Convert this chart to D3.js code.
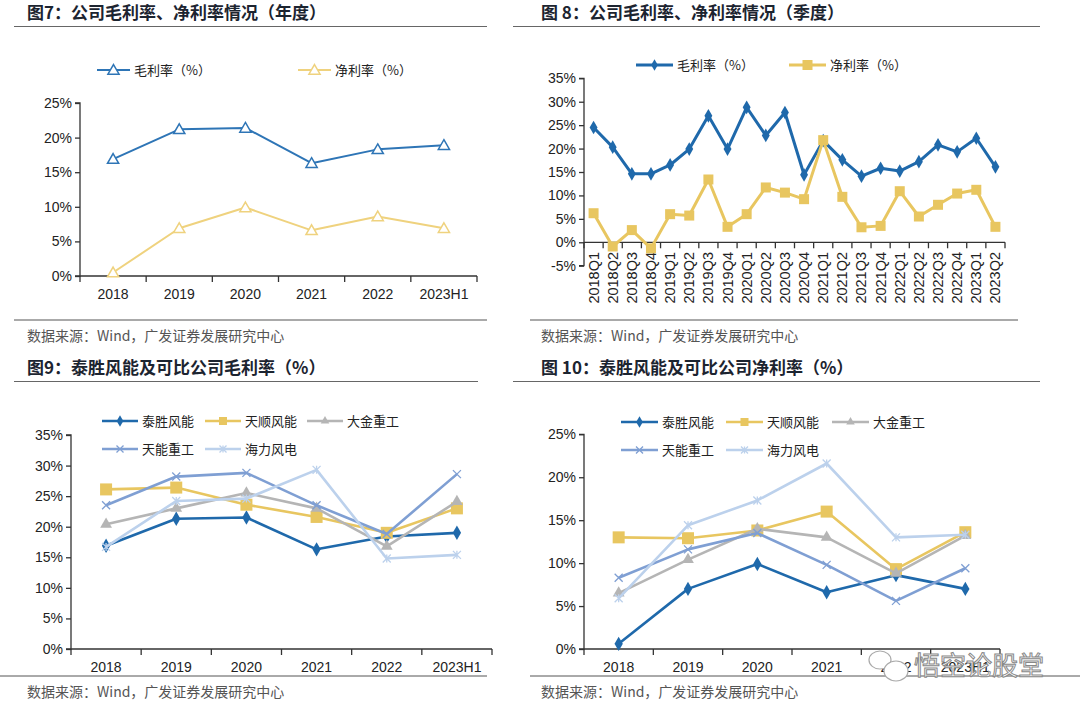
<!DOCTYPE html>
<html><head><meta charset="utf-8">
<script src="https://cdnjs.cloudflare.com/ajax/libs/d3/7.8.5/d3.min.js"></script>
<style>
body{margin:0;background:#fff;}
svg{display:block;font-family:Arial,"Liberation Sans","Noto Sans CJK SC",sans-serif;}
.cn{font-family:"Noto Sans CJK SC",sans-serif;}
</style></head><body>
<svg id="c" width="1080" height="715"></svg>
<script>
// ---------- data ----------
const yearCats = ["2018","2019","2020","2021","2022","2023H1"];
const annualGross = [16.9, 21.2, 21.4, 16.3, 18.3, 18.9];
const annualNet = [0.5, 6.9, 9.9, 6.6, 8.6, 6.9];
const annualTicks = [0,5,10,15,20,25];

const quarterCats = ["2018Q1","2018Q2","2018Q3","2018Q4","2019Q1","2019Q2","2019Q3","2019Q4",
  "2020Q1","2020Q2","2020Q3","2020Q4","2021Q1","2021Q2","2021Q3","2021Q4",
  "2022Q1","2022Q2","2022Q3","2022Q4","2023Q1","2023Q2"];
const quarterGross = [24.5,20.3,14.6,14.6,16.5,19.9,27.0,19.9,28.8,22.8,27.7,14.4,21.7,17.6,14.1,15.8,15.2,17.2,20.8,19.3,22.2,16.1];
const quarterNet = [6.2,-0.9,2.6,-1.3,6.0,5.7,13.4,3.3,6.0,11.7,10.6,9.2,21.8,9.7,3.2,3.5,10.9,5.5,8.0,10.4,11.2,3.3];
const quarterTicks = [-5,0,5,10,15,20,25,30,35];

const companies = ["泰胜风能","天顺风能","大金重工","天能重工","海力风电"];
const peerGross = [
  [16.9, 21.3, 21.5, 16.3, 18.4, 19.0],
  [26.1, 26.4, 23.6, 21.6, 19.0, 23.0],
  [20.4, 23.0, 25.5, 23.0, 16.8, 24.1],
  [23.5, 28.2, 28.8, 23.5, 18.8, 28.6],
  [16.7, 24.2, 24.6, 29.3, 14.8, 15.4]
];
const grossTicks = [0,5,10,15,20,25,30,35];
const peerNet = [
  [0.6, 7.0, 9.9, 6.6, 8.6, 7.0],
  [13.0, 12.9, 13.8, 16.0, 9.3, 13.6],
  [6.5, 10.4, 14.0, 13.0, 8.8, 13.2],
  [8.3, 11.6, 13.5, 9.8, 5.6, 9.4],
  [5.9, 14.4, 17.3, 21.6, 13.0, 13.3]
];
const netTicks = [0,5,10,15,20,25];

// ---------- styles ----------
const peerColors = ["#1f69ab","#e8c660","#b5b5b5","#7f9fd3","#bcd1ec"];
const peerShapes = ["diamond","square","triangle","x","star"];
const svg = d3.select("#c");

function marker(g, shape, x, y, color, s){
  if(shape==="diamond"){
    g.append("path").attr("d",d3.symbol(d3.symbolDiamond, s*s*0.6)()).attr("transform",`translate(${x},${y})`).attr("fill",color);
  } else if(shape==="square"){
    g.append("rect").attr("x",x-s/2).attr("y",y-s/2).attr("width",s).attr("height",s).attr("fill",color);
  } else if(shape==="triangle"){
    g.append("path").attr("d",d3.symbol(d3.symbolTriangle, s*s*0.5)()).attr("transform",`translate(${x},${y})`).attr("fill",color);
  } else if(shape==="otri"){
    g.append("path").attr("d",d3.symbol(d3.symbolTriangle, s*s*0.45)()).attr("transform",`translate(${x},${y+1})`).attr("fill","#fff").attr("stroke",color).attr("stroke-width",1.5);
  } else if(shape==="x"){
    const h=s/2;
    g.append("path").attr("d",`M${x-h},${y-h}L${x+h},${y+h}M${x-h},${y+h}L${x+h},${y-h}`).attr("stroke",color).attr("stroke-width",1.3);
  } else if(shape==="star"){
    const h=s/2;
    g.append("path").attr("d",`M${x-h},${y-h}L${x+h},${y+h}M${x-h},${y+h}L${x+h},${y-h}M${x},${y-h}L${x},${y+h}`).attr("stroke",color).attr("stroke-width",1.3);
  }
}

function header(x, lineX0, lineX1, y, text){
  svg.append("text").attr("class","cn").attr("x",x).attr("y",y).attr("font-size",17).attr("font-weight",700).attr("fill","#1c2430").text(text);
  svg.append("line").attr("x1",lineX0).attr("x2",lineX1).attr("y1",y+7.5).attr("y2",y+7.5).attr("stroke","#666").attr("stroke-width",1.2);
}
function footer(x, lineX0, lineX1, y){
  svg.append("line").attr("x1",lineX0).attr("x2",lineX1).attr("y1",y-16).attr("y2",y-16).attr("stroke","#555").attr("stroke-width",1);
  svg.append("text").attr("class","cn").attr("x",x).attr("y",y+5).attr("font-size",14).attr("fill","#555").text("数据来源：Wind，广发证券发展研究中心");
}

function panel(o){
  const g = svg.append("g");
  const x = d3.scaleBand().domain(o.cats).range([o.x0,o.x1]);
  const y = d3.scaleLinear().domain([o.ymin,o.ymax]).range([o.yb,o.yt]);
  // y axis
  const ya = g.append("g").attr("transform",`translate(${o.x0},0)`)
    .call(d3.axisLeft(y).tickValues(o.ticks).tickSize(5).tickFormat(d=>d+"%"));
  ya.select(".domain").attr("d",`M-5,${y(o.ymax)}H0V${y(o.ymin)}H-5`).attr("stroke","#333").attr("stroke-width",1.3);
  ya.selectAll(".tick line").attr("stroke","#333").attr("stroke-width",1.3);
  ya.selectAll(".tick text").attr("font-size",o.yfs||14).attr("fill","#222").attr("x",-8).attr("font-family","Arial,'Liberation Sans',sans-serif");
  // x axis
  const y0 = y(o.xAt||0);
  const xa = g.append("g").attr("transform",`translate(0,${y0})`);
  xa.append("line").attr("x1",o.x0).attr("x2",o.x1).attr("stroke","#333").attr("stroke-width",1.3);
  const bounds = o.cats.map(c=>x(c)).concat([o.x1]);
  bounds.forEach(b=>xa.append("line").attr("x1",b).attr("x2",b).attr("y1",0).attr("y2",6).attr("stroke","#333").attr("stroke-width",1.3));
  o.cats.forEach(c=>{
    const cx = x(c)+x.bandwidth()/2;
    if(o.rotate){
      xa.append("text").attr("transform",`translate(${cx+5},${o.labelTop-y0}) rotate(-90)`).attr("text-anchor","end")
        .attr("font-size",14.5).attr("fill","#222").text(c);
    } else {
      xa.append("text").attr("x",cx).attr("y",o.labelY-y0).attr("text-anchor","middle").attr("dy","0.35em")
        .attr("font-size",14).attr("fill","#222").text(c);
    }
  });
  // series
  o.series.forEach(s=>{
    const pts = s.values.map((v,i)=>[x(o.cats[i])+x.bandwidth()/2, y(v)]);
    g.append("path").attr("d",d3.line()(pts)).attr("fill","none").attr("stroke",s.color).attr("stroke-width",s.width).attr("stroke-linejoin","round");
    pts.forEach(p=>marker(g,s.shape,p[0],p[1],s.color,s.ms));
  });
  // legend
  o.series.forEach((s,i)=>{
    const L = o.legend[i];
    g.append("line").attr("x1",L[0]).attr("x2",L[0]+o.legLen).attr("y1",L[1]).attr("y2",L[1]).attr("stroke",s.color).attr("stroke-width",s.width);
    marker(g,s.shape,L[0]+o.legLen/2,L[1],s.color,s.lms||s.ms);
    g.append("text").attr("class","cn").attr("x",L[0]+o.legLen+4).attr("y",L[1]).attr("dy","0.36em").attr("font-size",o.legFs||14).attr("fill","#222").text(s.name);
  });
}

// ---------- Figure 7 ----------
header(27, 14, 487, 19, "图7：公司毛利率、净利率情况（年度）");
panel({cats:yearCats,x0:80,x1:477,ymin:0,ymax:25,yb:276,yt:103,ticks:annualTicks,labelY:294,
  series:[{name:"毛利率（%）",values:annualGross,color:"#2e75b6",width:2,shape:"otri",ms:11},
          {name:"净利率（%）",values:annualNet,color:"#efd27e",width:2,shape:"otri",ms:11}],
  legend:[[97,70],[298,70]],legLen:33,legFs:13});
footer(27, 14, 487, 336);

// ---------- Figure 8 ----------
header(541, 513, 1040, 19, "图 8：公司毛利率、净利率情况（季度）");
panel({cats:quarterCats,x0:584,x1:1005,ymin:-5,ymax:35,yb:265.7,yt:78.3,ticks:quarterTicks,rotate:true,labelTop:252,
  series:[{name:"毛利率（%）",values:quarterGross,color:"#1f69ab",width:3,shape:"diamond",ms:9.5,lms:8},
          {name:"净利率（%）",values:quarterNet,color:"#e8c660",width:3,shape:"square",ms:10}],
  legend:[[636,65],[789,65]],legLen:37,legFs:13});
footer(541, 530, 1018, 336);

// ---------- Figure 9 ----------
header(27, 14, 478, 374, "图9：泰胜风能及可比公司毛利率（%）");
panel({cats:yearCats,x0:71,x1:492,ymin:0,ymax:35,yb:649,yt:435,ticks:grossTicks,labelY:667,
  series:companies.map((n,i)=>({name:n,values:peerGross[i],color:peerColors[i],width:2.6,shape:peerShapes[i],ms:[10,12,11,8,8][i],lms:[8,8,8,7,7][i]})),
  legend:[[102,421],[205,421],[307,421],[102,449],[205,449]],legLen:36,legFs:13});
footer(27, 0, 487, 692);

// ---------- Figure 10 ----------
header(541, 513, 1040, 374, "图 10：泰胜风能及可比公司净利率（%）");
panel({cats:yearCats,x0:584,x1:1000,ymin:0,ymax:25,yb:649,yt:434.3,ticks:netTicks,labelY:667,
  series:companies.map((n,i)=>({name:n,values:peerNet[i],color:peerColors[i],width:2.6,shape:peerShapes[i],ms:[10,12,11,8,8][i],lms:[8,8,8,7,7][i]})),
  legend:[[621,422],[726,422],[832,422],[621,450],[726,450]],legLen:37,legFs:13});
footer(541, 530, 1080, 692);

// watermark
const wm = svg.append("g");
wm.append("ellipse").attr("cx",880).attr("cy",660).attr("rx",11).attr("ry",9).attr("fill","#fff").attr("stroke","#aaa").attr("stroke-width",1.2);
wm.append("ellipse").attr("cx",896).attr("cy",671).attr("rx",12).attr("ry",10).attr("fill","#fff").attr("stroke","#aaa").attr("stroke-width",1.2);
wm.append("text").attr("class","cn").attr("x",914).attr("y",675).attr("font-size",26).attr("fill","#fff").attr("stroke","#888").attr("stroke-width",1).text("悟空论股堂");
</script>
</body></html>
